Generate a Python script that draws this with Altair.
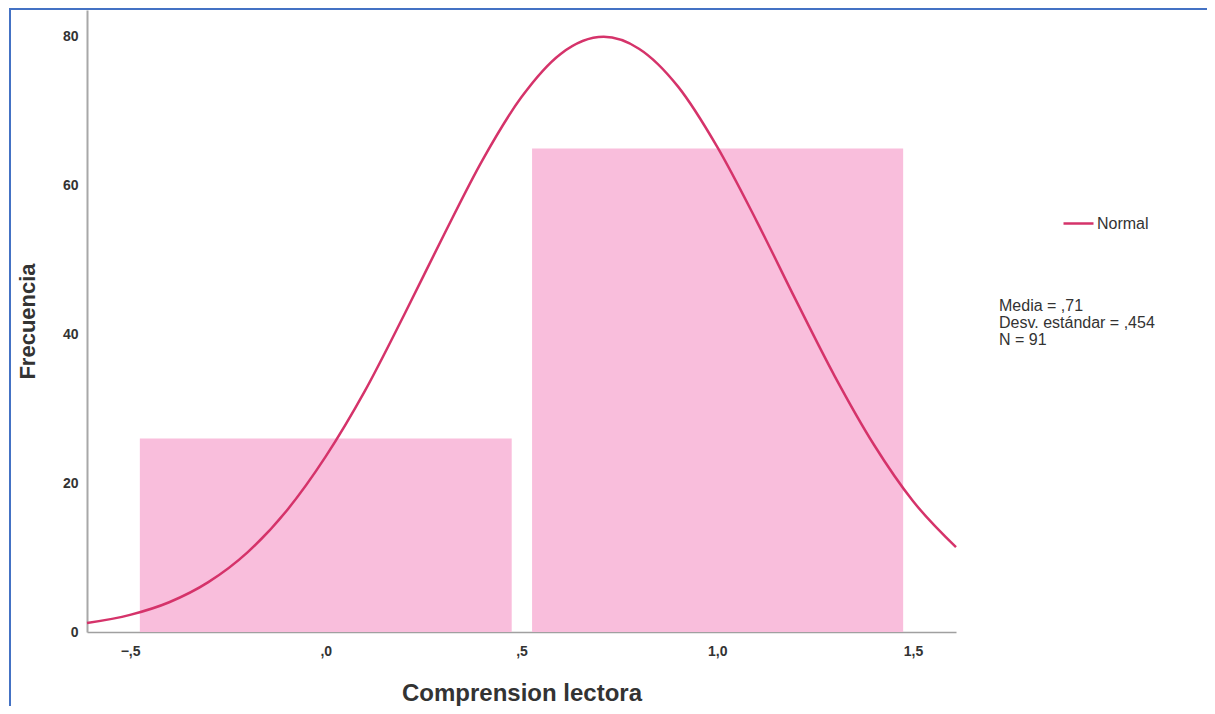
import altair as alt
import pandas as pd

# Histogram bars (bin edges and counts)
bar_start = [-0.475, 0.527]
bar_end = [0.475, 1.475]
bar_count = [26, 65]

# Normal curve points
curve_x = [-0.61, -0.5, -0.4, -0.3, -0.2, -0.1, 0.0, 0.1, 0.2, 0.3, 0.4, 0.5, 0.6,
           0.71, 0.8, 0.9, 1.0, 1.1, 1.2, 1.3, 1.4, 1.5, 1.61]
curve_y = [1.2, 2.3, 4.0, 6.7, 10.7, 16.3, 23.6, 32.4, 42.6, 53.2, 63.4, 71.9, 77.7,
           80.0, 78.4, 73.3, 65.2, 55.3, 44.7, 34.4, 25.2, 17.6, 11.4]

x_ticks = [-0.5, 0.0, 0.5, 1.0, 1.5]
y_ticks = [0, 20, 40, 60, 80]
stats_lines = ["Media = ,71", "Desv. estándar = ,454", "N = 91"]
legend_label = "Normal"

FONT = "Liberation Sans"
BAR = "#F9BEDC"
CURVE = "#D5336A"

bars_df = pd.DataFrame({"x0": bar_start, "x1": bar_end, "n": bar_count})
curve_df = pd.DataFrame({"x": curve_x, "y": curve_y, "serie": [legend_label] * len(curve_x)})
stats_df = pd.DataFrame({"t": ["\n".join(stats_lines)]})

xscale = alt.Scale(domain=[-0.61, 1.61], nice=False, zero=False)
yscale = alt.Scale(domain=[0, 83.6], nice=False)

x_axis = alt.Axis(
    title="Comprension lectora", values=x_ticks, grid=False, ticks=False, tickSize=0,
    labelExpr="replace(replace(format(datum.value, '.1f'), '0.', '.'), '.', ',')",
    labelFont=FONT, labelFontSize=14, labelFontWeight="bold", labelColor="#333333",
    labelPadding=12, domainColor="#A0A0A0", domainWidth=1.5,
    titleFont=FONT, titleFontSize=24, titleFontWeight="bold", titleColor="#333333",
    titleY=61, titleBaseline="middle",
)
y_axis = alt.Axis(
    title="Frecuencia", values=y_ticks, grid=False, ticks=False, tickSize=0,
    labelFont=FONT, labelFontSize=14, labelFontWeight="bold", labelColor="#333333",
    labelPadding=9, domainColor="#A8A8A8", domainWidth=2,
    titleFont=FONT, titleFontSize=22, titleFontWeight="bold", titleColor="#333333",
    titleX=-60, titleBaseline="middle",
)

bars = alt.Chart(bars_df).mark_rect(color=BAR).encode(
    x=alt.X("x0:Q", scale=xscale, axis=x_axis),
    x2="x1:Q",
    y=alt.Y("n:Q", scale=yscale, axis=y_axis),
    y2=alt.datum(0),
)

curve = alt.Chart(curve_df).mark_line(strokeWidth=2.5, interpolate="monotone").encode(
    x=alt.X("x:Q", scale=xscale),
    y=alt.Y("y:Q", scale=yscale),
    color=alt.Color(
        "serie:N",
        scale=alt.Scale(domain=[legend_label], range=[CURVE]),
        legend=alt.Legend(
            title=None, orient="none", legendX=975, legendY=197,
            symbolType="stroke", symbolSize=900, symbolStrokeWidth=2.5,
            labelFont=FONT, labelFontSize=16, labelColor="#333333", labelOffset=2,
        ),
    ),
)

stats = alt.Chart(stats_df).mark_text(
    align="left", baseline="middle", font=FONT, fontSize=16, color="#333333",
    lineBreak="\n", lineHeight=17,
).encode(x=alt.value(912), y=alt.value(296), text="t:N")

frame = alt.Chart(stats_df).mark_rect(
    fill=None, fillOpacity=0, stroke="#4472C4", strokeWidth=2,
).encode(x=alt.value(-77), x2=alt.value(1140), y=alt.value(-1), y2=alt.value(720))

chart = alt.layer(bars, curve, stats, frame).properties(
    width=869, height=622,
    background="white",
    autosize=alt.AutoSizeParams(type="none"),
    padding={"left": 79, "top": 2, "right": 251, "bottom": 74},
).configure_view(strokeWidth=0, stroke=None)

chart.save("out.html", embed_options={"renderer": "svg", "actions": False})
